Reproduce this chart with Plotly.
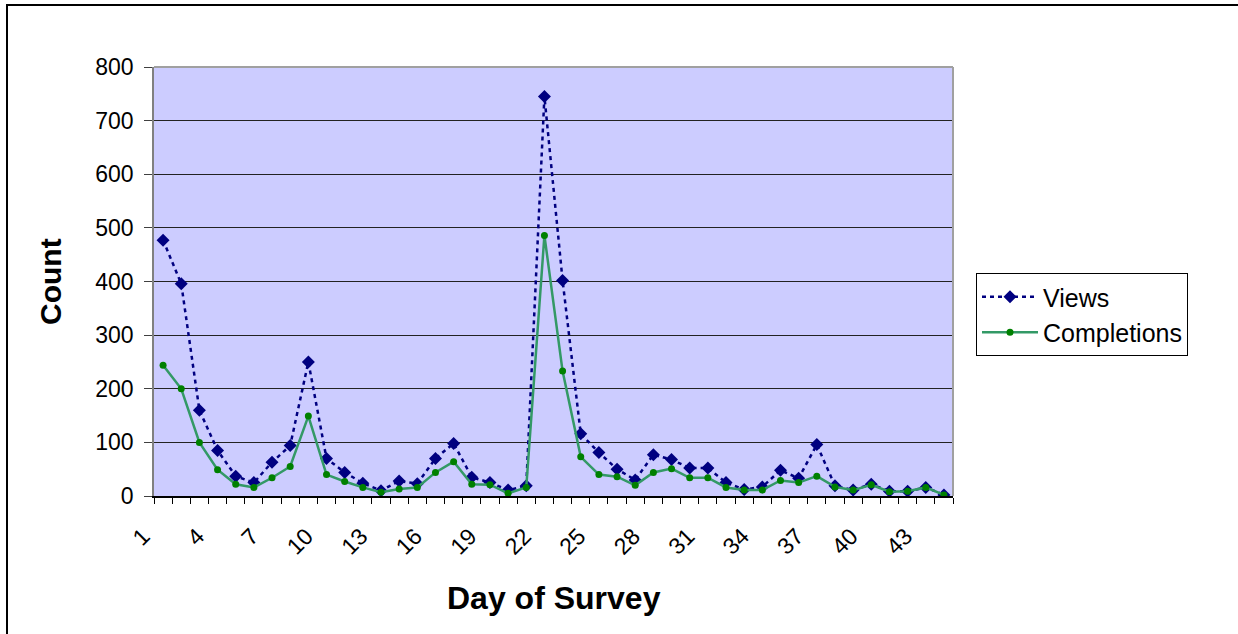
import plotly.graph_objects as go

days = list(range(1, 45))
views = [477, 396, 160, 85, 37, 25, 63, 94, 250, 70, 44, 24, 10, 28, 23, 70, 98, 35, 25, 11, 19, 745,
         402, 116, 81, 50, 30, 77, 68, 52, 52, 25, 12, 17, 48, 33, 96, 19, 11, 22, 9, 9, 16, 2]
completions = [244, 200, 100, 49, 22, 16, 34, 55, 149, 40, 27, 16, 7, 13, 16, 44, 64, 22, 21, 5, 16, 486,
               233, 73, 40, 36, 20, 44, 51, 34, 34, 16, 11, 11, 29, 25, 37, 17, 11, 21, 8, 9, 16, 2]
tick_days = [1, 4, 7, 10, 13, 16, 19, 22, 25, 28, 31, 34, 37, 40, 43]
tick_labels = [str(d) for d in tick_days]
boundaries = [d - 0.5 for d in days] + [days[-1] + 0.5]

fig = go.Figure()
fig.add_trace(go.Scatter(
    x=days, y=views, name="Views", mode="lines+markers",
    line=dict(color="#000080", width=2.5, dash="4px,4px"),
    marker=dict(symbol="diamond", size=10, color="#000080"),
))
fig.add_trace(go.Scatter(
    x=days, y=completions, name="Completions", mode="lines+markers",
    line=dict(color="#339966", width=2.5),
    marker=dict(symbol="circle", size=7, color="#008000"),
))

L, R, T, B = 154, 953, 67, 496
W, H = 1238, 634
pw, ph = R - L, B - T

def px(x):
    return (x - L) / pw

def py(y):
    return (B - y) / ph

fig.update_layout(
    width=W, height=H,
    margin=dict(l=L, r=W - R, t=T, b=H - B, autoexpand=False),
    paper_bgcolor="white",
    plot_bgcolor="#CCCCFF",
    font=dict(family="Liberation Sans, Arial, sans-serif", color="black", size=23),
    showlegend=True,
    legend=dict(
        x=px(976), y=py(273), xanchor="left", yanchor="top",
        bgcolor="white", bordercolor="black", borderwidth=1,
        font=dict(size=25), itemwidth=56, tracegroupgap=0,
    ),
    xaxis=dict(
        range=[0.5, 44.5], tickmode="array", tickvals=tick_days, ticktext=tick_labels,
        tickangle=-45, ticks="outside", ticklen=6, tickcolor="rgba(0,0,0,0)",
        ticklabelshift=-20, ticklabelstandoff=10,
        showgrid=False, zeroline=False, showline=True, linecolor="black", linewidth=1.5,
        tickfont=dict(size=23),
        minor=dict(tickmode="array", tickvals=boundaries, ticks="outside", ticklen=6,
                   tickcolor="black", tickwidth=1, showgrid=False),
    ),
    yaxis=dict(
        range=[0, 800], dtick=100, tick0=0, ticks="outside", ticklen=8, tickcolor="#404040",
        ticklabelstandoff=6,
        showgrid=True, gridcolor="#222222", gridwidth=1, zeroline=False,
        showline=True, linecolor="#808080", linewidth=1.5, tickfont=dict(size=23),
    ),
    shapes=[
        dict(type="rect", xref="paper", yref="paper", x0=px(7), x1=px(1260), y0=py(660), y1=py(5),
             line=dict(color="black", width=2), fillcolor="rgba(0,0,0,0)", layer="below"),
        dict(type="line", xref="paper", yref="paper", x0=0, x1=1, y0=1, y1=1,
             line=dict(color="#A0A0A0", width=2)),
        dict(type="line", xref="paper", yref="paper", x0=1, x1=1, y0=0, y1=1,
             line=dict(color="#A0A0A0", width=2)),
    ],
    annotations=[
        dict(text="<b>Count</b>", xref="paper", yref="paper", x=px(50), y=py(282),
             showarrow=False, textangle=-90, font=dict(size=30), xanchor="center", yanchor="middle"),
        dict(text="<b>Day of Survey</b>", xref="paper", yref="paper", x=px(554), y=py(598),
             showarrow=False, font=dict(size=32), xanchor="center", yanchor="middle"),
    ],
)

fig.write_html("out.html")
